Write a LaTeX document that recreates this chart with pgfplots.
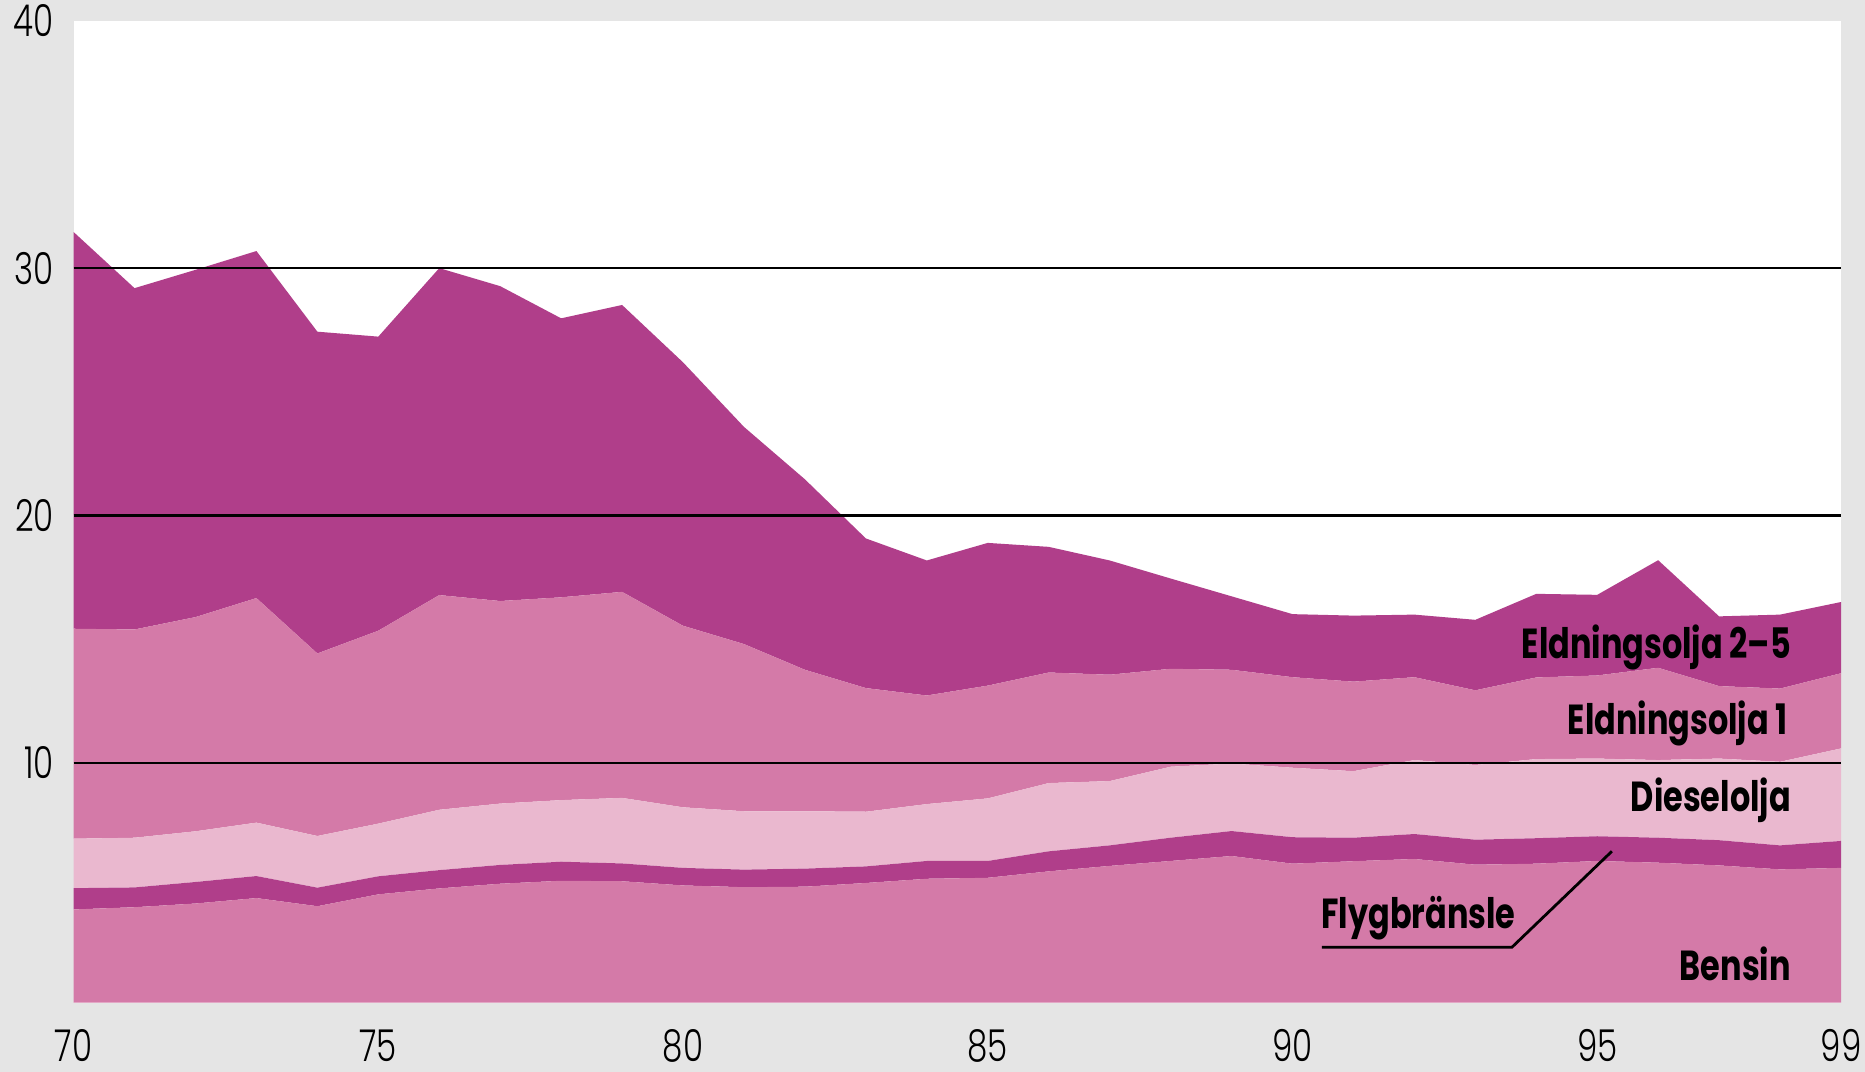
\documentclass[border=0pt]{standalone}
\usepackage{pgfplots}
\pgfplotsset{compat=1.18}
\usepackage{pgfplotstable}
\usepackage{fontspec}
\setmainfont{Poppins}
\newfontfamily\tickfont{Poppins Light}[FakeStretch=0.74]
\newfontfamily\labfont{Poppins}[FakeStretch=0.76]

\definecolor{bg}{RGB}{229,229,229}
\definecolor{dark}{RGB}{176,62,138}
\definecolor{mid}{RGB}{212,122,168}
\definecolor{light}{RGB}{234,184,207}

\pgfplotstableread{
year bensin flyg diesel eo1 eo25
70 4.07 0.86 2.00 8.49 16.04
71 4.16 0.80 2.01 8.42 13.80
72 4.31 0.87 2.05 8.66 14.04
73 4.53 0.89 2.16 9.08 14.03
74 4.20 0.75 2.09 7.38 13.01
75 4.68 0.73 2.13 7.80 11.89
76 4.92 0.74 2.44 8.68 13.22
77 5.11 0.76 2.48 8.19 12.73
78 5.23 0.77 2.49 8.20 11.28
79 5.21 0.72 2.65 8.33 11.60
80 5.04 0.71 2.45 7.34 10.65
81 4.97 0.71 2.36 6.76 8.78
82 4.99 0.73 2.32 5.72 7.70
83 5.14 0.67 2.21 5.00 6.05
84 5.31 0.72 2.30 4.39 5.46
85 5.35 0.68 2.53 4.56 5.77
86 5.61 0.81 2.76 4.47 5.08
87 5.83 0.83 2.60 4.30 4.62
88 6.03 0.94 2.87 3.96 3.65
89 6.23 1.01 2.73 3.79 2.97
90 5.92 1.07 2.81 3.66 2.55
91 6.02 0.95 2.69 3.62 2.67
92 6.11 1.01 2.99 3.35 2.53
93 5.88 1.01 3.02 3.02 2.85
94 5.92 1.03 3.20 3.30 3.38
95 6.03 1.00 3.14 3.36 3.26
96 5.96 1.01 3.14 3.73 4.35
97 5.85 1.02 3.30 2.93 2.82
98 5.69 0.97 3.38 2.96 2.99
99 5.75 1.09 3.74 3.04 2.88
}\data

\tikzset{lab/.style={inner sep=0pt, font=\labfont\bfseries\fontsize{10.5}{10.5}\selectfont}}

\begin{document}
\begin{tikzpicture}
\fill[bg] (-18.4pt,-17.3pt) rectangle (447.9pt,250.7pt);
\begin{axis}[
  scale only axis, width=441.9pt, height=245.5pt,
  xmin=70, xmax=99, ymin=0.3, ymax=40,
  stack plots=y,
  axis background/.style={fill=white},
  axis line style={draw=none},
  major tick length=0pt,
  xtick={70,75,80,85,90,95,99},
  ytick={10,20,30,40},
  /pgf/number format/assume math mode=true,
  ticklabel style={font=\tickfont\fontsize{11}{11}\selectfont},
  xticklabel style={anchor=base, yshift=-14.8pt, inner sep=0pt},
  yticklabel style={anchor=east, inner sep=0pt, xshift=-4.7pt},
]
\addplot[fill=mid, draw=none] table[x=year, y=bensin]{\data} \closedcycle;
\addplot[fill=dark, draw=none] table[x=year, y=flyg]{\data} \closedcycle;
\addplot[fill=light, draw=none] table[x=year, y=diesel]{\data} \closedcycle;
\addplot[fill=mid, draw=none] table[x=year, y=eo1]{\data} \closedcycle;
\addplot[fill=dark, draw=none] table[x=year, y=eo25]{\data} \closedcycle;
\coordinate (g10l) at (axis cs:70,10);
\coordinate (g10r) at (axis cs:99,10);
\coordinate (g20l) at (axis cs:70,20);
\coordinate (g20r) at (axis cs:99,20);
\coordinate (g30l) at (axis cs:70,30);
\coordinate (g30r) at (axis cs:99,30);
\coordinate (l1) at (axis cs:98.19,14.23);
\coordinate (l2) at (axis cs:98.14,11.15);
\coordinate (l3) at (axis cs:98.19,8.01);
\coordinate (l4) at (axis cs:90.46,3.29);
\coordinate (l5) at (axis cs:98.19,1.19);
\coordinate (p1) at (axis cs:90.48,2.54);
\coordinate (p2) at (axis cs:93.60,2.54);
\coordinate (p3) at (axis cs:95.24,6.42);
\end{axis}
\draw[black, line width=0.6pt] (g10l) -- (g10r);
\draw[black, line width=0.6pt] (g20l) -- (g20r);
\draw[black, line width=0.6pt] (g30l) -- (g30r);
\node[lab, anchor=base east] at (l1) {Eldningsolja 2–5};
\node[lab, anchor=base east] at (l2) {Eldningsolja 1};
\node[lab, anchor=base east] at (l3) {Dieselolja};
\node[lab, anchor=base west] at (l4) {Flygbränsle};
\node[lab, anchor=base east] at (l5) {Bensin};
\draw[black, line width=0.7pt] (p1) -- (p2) -- (p3);
\pgfresetboundingbox
\path[use as bounding box] (-18.4pt,-17.3pt) rectangle (447.9pt,250.7pt);
\end{tikzpicture}
\end{document}
